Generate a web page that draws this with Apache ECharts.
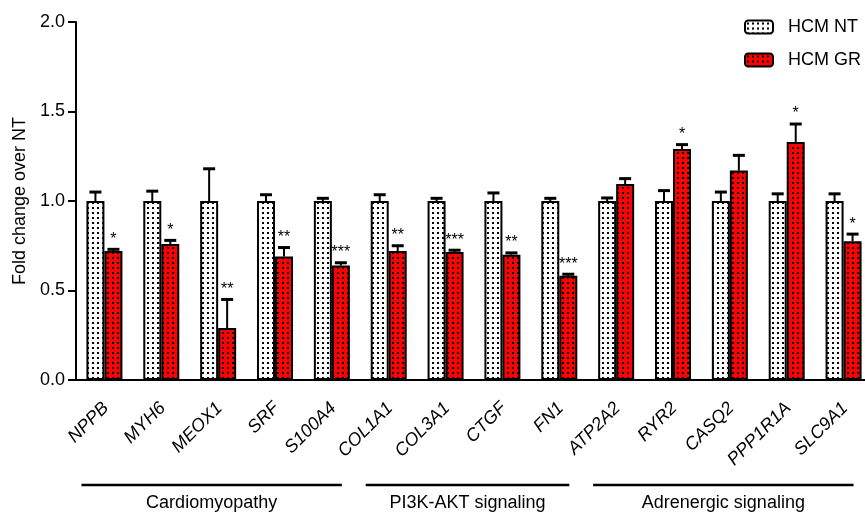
<!DOCTYPE html>
<html>
<head>
<meta charset="utf-8">
<script src="https://cdn.jsdelivr.net/npm/echarts@6/dist/echarts.min.js"></script>
<style>
  html, body { margin: 0; padding: 0; background: #fff; }
  #chart { width: 865px; height: 515px; }
</style>
</head>
<body>
<div id="chart"></div>
<script>
// 基因名称（横轴类别）
const genes = ['NPPB', 'MYH6', 'MEOX1', 'SRF', 'S100A4', 'COL1A1', 'COL3A1', 'CTGF', 'FN1',
  'ATP2A2', 'RYR2', 'CASQ2', 'PPP1R1A', 'SLC9A1']

// HCM NT 组：均值与误差
const ntMean = [1, 1, 1, 1, 1, 1, 1, 1, 1, 1, 1, 1, 1, 1]
const ntErr = [0.05, 0.055, 0.18, 0.035, 0.015, 0.035, 0.015, 0.045, 0.015, 0.017, 0.058, 0.05, 0.04, 0.04]

// HCM GR 组：均值与误差
const grMean = [0.72, 0.76, 0.29, 0.69, 0.64, 0.72, 0.715, 0.70, 0.583, 1.095, 1.29, 1.17, 1.33, 0.775]
const grErr = [0.01, 0.02, 0.16, 0.05, 0.015, 0.03, 0.01, 0.01, 0.008, 0.03, 0.025, 0.085, 0.10, 0.04]

// 显著性标记
const stars = ['*', '*', '**', '**', '***', '**', '***', '**', '***', '', '*', '', '*', '*']

// 通路分组
const groupNames = ['Cardiomyopathy', 'PI3K-AKT signaling', 'Adrenergic signaling']
const groupFrom = ['NPPB', 'COL1A1', 'ATP2A2']
const groupTo = ['S100A4', 'FN1', 'SLC9A1']

const yTicks = [0, 0.5, 1, 1.5, 2]

const FONT = '"Liberation Sans", Arial, sans-serif'

// 点状填充图案
const makePattern = (bg) => {
  const c = document.createElement('canvas')
  c.width = 5
  c.height = 5
  const ctx = c.getContext('2d')
  ctx.fillStyle = bg
  ctx.fillRect(0, 0, 5, 5)
  ctx.fillStyle = '#000'
  ctx.fillRect(2, 2, 2, 2)
  return {image: c, repeat: 'repeat'}
}

const ntPattern = makePattern('#ffffff')
const grPattern = makePattern('#ff0000')

// 误差线 + 星号
const renderErr = (params, api) => {
  const i = api.value(0)
  const v = api.value(1)
  const e = api.value(2)
  const side = api.value(3)
  const base = api.coord([i, v])
  const top = api.coord([i, v + e])
  const x = base[0] + side * 9
  const children = [
    {type: 'line', shape: {x1: x, y1: base[1], x2: x, y2: top[1]}, style: {stroke: '#000', lineWidth: 2}},
    {type: 'line', shape: {x1: x - 6, y1: top[1], x2: x + 6, y2: top[1]}, style: {stroke: '#000', lineWidth: 3}}
  ]
  const s = side > 0 ? stars[i] : ''
  if (s) {
    children.push({
      type: 'text',
      style: {
        x: x, y: top[1] - 10, text: s, fill: '#000',
        font: '16px ' + FONT, textAlign: 'center', textVerticalAlign: 'middle'
      }
    })
  }
  return {type: 'group', children}
}

const chart = echarts.init(document.getElementById('chart'), null, {renderer: 'canvas'})

chart.setOption({
  backgroundColor: '#fff',
  animation: false,
  textStyle: {fontFamily: FONT},
  grid: {left: 76, right: -7, top: 22, bottom: 135, outerBoundsMode: 'none'},
  legend: {
    orient: 'vertical',
    left: 744,
    top: 18,
    padding: 0,
    itemWidth: 28,
    itemHeight: 13,
    itemGap: 15,
    data: ['HCM NT', 'HCM GR'],
    itemStyle: {borderColor: '#000', borderWidth: 2},
    textStyle: {fontSize: 18, color: '#000', fontFamily: FONT, padding: [0, 0, 0, 10]}
  },
  xAxis: {
    type: 'category',
    data: genes,
    axisLine: {lineStyle: {color: '#000', width: 2}},
    axisTick: {alignWithLabel: true, length: 8, lineStyle: {color: '#000', width: 2}},
    axisLabel: {
      interval: 0, rotate: 45, fontSize: 18, fontStyle: 'italic', color: '#000',
      fontFamily: FONT, margin: 14, align: 'right', verticalAlign: 'top', padding: [0, 7, 0, 0]
    },
    splitLine: {show: false}
  },
  yAxis: {
    type: 'value',
    min: yTicks[0],
    max: yTicks[yTicks.length - 1],
    interval: 0.5,
    name: 'Fold change over NT',
    nameLocation: 'middle',
    nameGap: 42,
    nameTextStyle: {fontSize: 18, color: '#000', fontFamily: FONT},
    axisLine: {show: true, lineStyle: {color: '#000', width: 2}},
    axisTick: {show: true, length: 8, lineStyle: {color: '#000', width: 2}},
    axisLabel: {fontSize: 18, color: '#000', margin: 11, fontFamily: FONT, formatter: v => v.toFixed(1)},
    splitLine: {show: false}
  },
  series: [
    {
      name: 'HCM NT',
      type: 'bar',
      barWidth: 18,
      barGap: '0%',
      data: ntMean,
      itemStyle: {color: ntPattern, borderColor: '#000', borderWidth: 2}
    },
    {
      name: 'HCM GR',
      type: 'bar',
      barWidth: 18,
      barGap: '0%',
      data: grMean,
      itemStyle: {color: grPattern, borderColor: '#000', borderWidth: 2}
    },
    {
      name: 'errNT',
      type: 'custom',
      renderItem: renderErr,
      z: 5,
      data: genes.map((g, i) => [i, ntMean[i], ntErr[i], -1])
    },
    {
      name: 'errGR',
      type: 'custom',
      renderItem: renderErr,
      z: 5,
      data: genes.map((g, i) => [i, grMean[i], grErr[i], 1])
    }
  ]
})

// 底部分组线与标题
const graphics = []
groupNames.forEach((name, k) => {
  const x0 = chart.convertToPixel({xAxisIndex: 0}, groupFrom[k]) - 23
  const x1 = chart.convertToPixel({xAxisIndex: 0}, groupTo[k]) + 10
  graphics.push({
    type: 'line',
    shape: {x1: x0, y1: 485, x2: x1, y2: 485},
    style: {stroke: '#000', lineWidth: 2.5}
  })
  graphics.push({
    type: 'text',
    x: (x0 + x1) / 2,
    y: 503,
    style: {text: name, font: '18px ' + FONT, fill: '#000', align: 'center', verticalAlign: 'middle'}
  })
})
chart.setOption({graphic: graphics})
</script>
</body>
</html>
